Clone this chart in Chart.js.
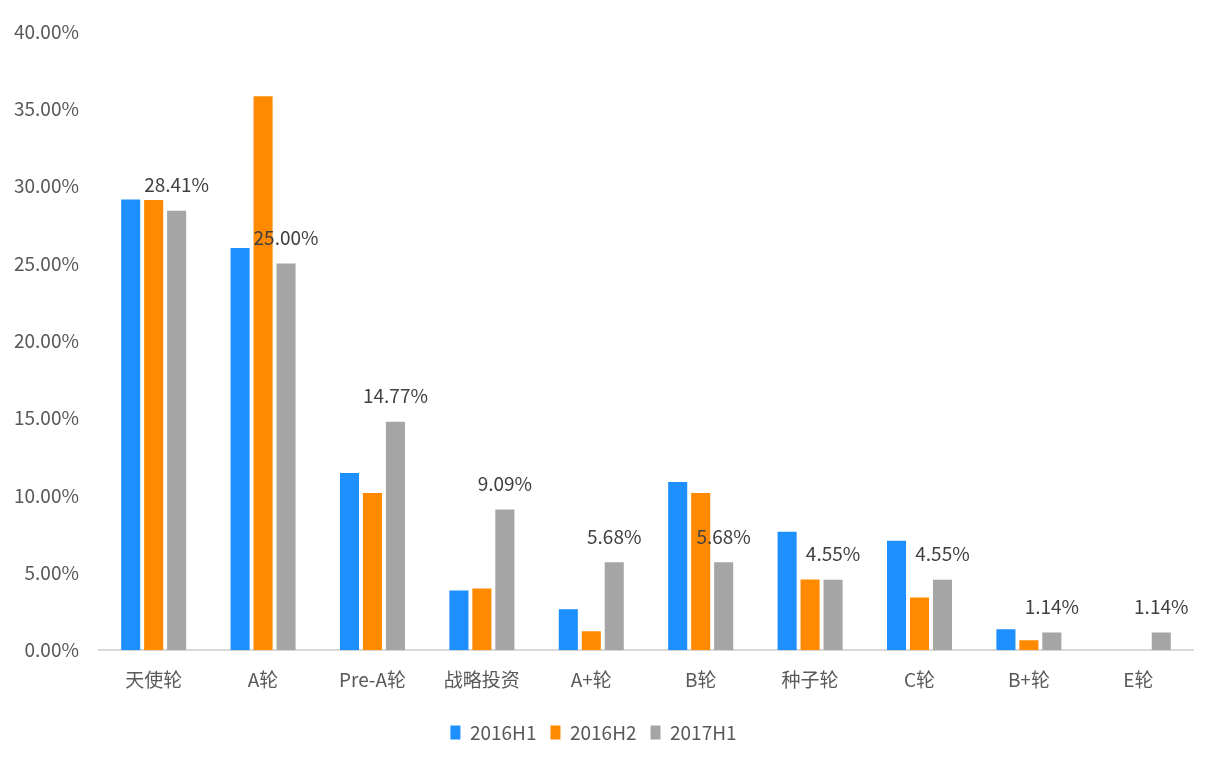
<!DOCTYPE html>
<html>
<head>
<meta charset="utf-8">
<script src="https://cdn.jsdelivr.net/npm/chart.js@4"></script>
<style>
  body { margin: 0; background: #fff; }
  #wrap { width: 1220px; height: 766px; }
</style>
</head>
<body>
<div id="wrap"><canvas id="c" width="1220" height="766"></canvas></div>
<script>
// funding rounds share, three half-years
const rounds = ["天使轮", "A轮", "Pre-A轮", "战略投资", "A+轮", "B轮", "种子轮", "C轮", "B+轮", "E轮"];
const h1_2016 = [29.13, 26.0, 11.45, 3.86, 2.64, 10.87, 7.65, 7.07, 1.35, 0];
const h2_2016 = [29.1, 35.8, 10.16, 3.99, 1.22, 10.16, 4.57, 3.41, 0.64, 0];
const h1_2017 = [28.41, 25.0, 14.77, 9.09, 5.68, 5.68, 4.55, 4.55, 1.14, 1.14];
const yTicks = [0, 5, 10, 15, 20, 25, 30, 35, 40];

const FONT = "'Noto Sans CJK SC', 'Noto Sans', sans-serif";
const FS = 19;

// value labels above the 2017H1 bars only
const grayLabels = {
  id: "grayLabels",
  afterDatasetsDraw(chart) {
    const ctx = chart.ctx;
    const meta = chart.getDatasetMeta(2);
    ctx.save();
    ctx.font = FS + "px " + FONT;
    ctx.fillStyle = "#404040";
    ctx.textAlign = "center";
    ctx.textBaseline = "middle";
    meta.data.forEach((bar, i) => {
      ctx.fillText(h1_2017[i].toFixed(2) + "%", bar.x, bar.y - 26);
    });
    ctx.restore();
  },
};

new Chart(document.getElementById("c"), {
  type: "bar",
  data: {
    labels: rounds,
    datasets: [
      { label: "2016H1", data: h1_2016, backgroundColor: "#1E8FFF" },
      { label: "2016H2", data: h2_2016, backgroundColor: "#FF8A00" },
      { label: "2017H1", data: h1_2017, backgroundColor: "#A5A5A5" },
    ],
  },
  options: {
    responsive: false,
    animation: false,
    layout: { padding: { top: 13, right: 27, left: -6, bottom: 14 } },
    datasets: { bar: { categoryPercentage: 0.63, barPercentage: 0.83 } },
    plugins: {
      legend: {
        position: "bottom",
        labels: {
          font: { family: FONT, size: FS },
          color: "#595959",
          boxWidth: 10,
          boxHeight: 14,
          padding: 14,
        },
      },
      tooltip: { enabled: false },
    },
    scales: {
      x: {
        grid: { display: false, drawTicks: false },
        border: { display: true, color: "#d9d9d9", width: 2 },
        ticks: { font: { family: FONT, size: FS }, color: "#595959", padding: 18 },
      },
      y: {
        min: 0,
        max: 40,
        afterBuildTicks: (axis) => { axis.ticks = yTicks.map((v) => ({ value: v })); },
        grid: { display: false, drawTicks: false },
        border: { display: false },
        ticks: {
          font: { family: FONT, size: FS },
          color: "#595959",
          padding: 20,
          callback: (v) => Number(v).toFixed(2) + "%",
        },
      },
    },
  },
  plugins: [grayLabels],
});
</script>
</body>
</html>
